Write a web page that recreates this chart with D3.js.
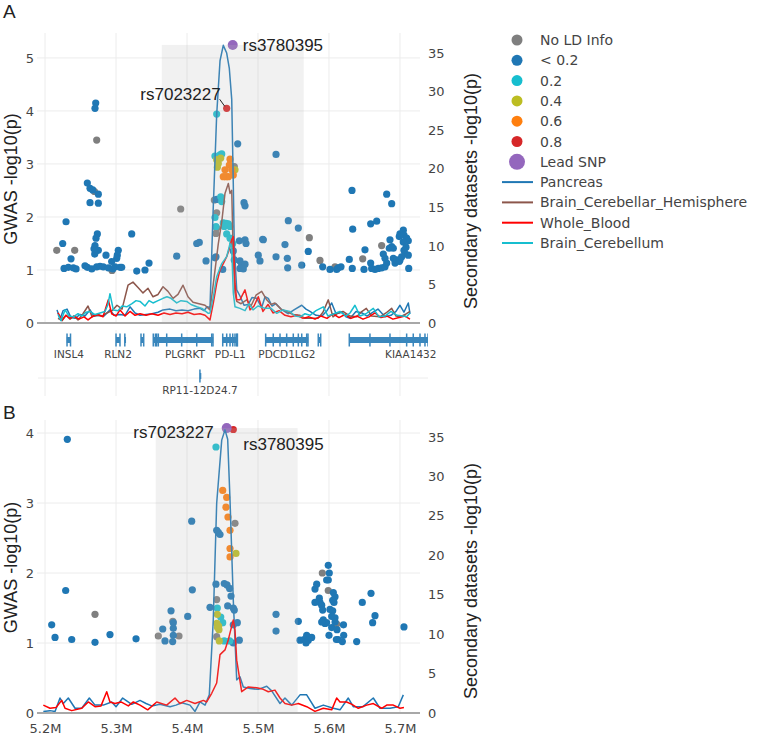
<!DOCTYPE html>
<html>
<head>
<meta charset="utf-8">
<script src="https://cdn.jsdelivr.net/npm/d3@7"></script>
<style>
  body { margin: 0; background: #fff; }
  text { font-family: "DejaVu Sans", Verdana, sans-serif; }
  .title { font-family: "Liberation Sans", Arial, sans-serif; fill: #222; }
</style>
</head>
<body>
<svg id="chart" width="767" height="738"></svg>
<script>
// LD categories (legend order)
const ldKeys = ["NA", "<0.2", "0.2", "0.4", "0.6", "0.8", "lead"]
const ldLabels = ["No LD Info", "< 0.2", "0.2", "0.4", "0.6", "0.8", "Lead SNP"]
const ldColors = ["#7f7f7f", "#1f77b4", "#17becf", "#bcbd22", "#ff7f0e", "#d62728", "#9467bd"]

const tissues = ["Pancreas", "Brain_Cerebellar_Hemisphere", "Whole_Blood", "Brain_Cerebellum"]
const tissueColors = ["#1f77b4", "#8c564b", "#ff0000", "#17becf"]

const xTicks = [5.2, 5.3, 5.4, 5.5, 5.6, 5.7]
const xTickLabels = ["5.2M", "5.3M", "5.4M", "5.5M", "5.6M", "5.7M"]
const topGwasTicks = [0, 1, 2, 3, 4, 5]
const bottomGwasTicks = [0, 1, 2, 3, 4]
const secondaryTicks = [0, 5, 10, 15, 20, 25, 30, 35]

// Panel A GWAS SNPs: [position (Mb), -log10 p, LD]
const topSnps = [
  [5.2714, 4.15, "<0.2"], [5.2704, 4.05, "<0.2"], [5.2728, 3.45, "NA"], [5.2596, 2.64, "<0.2"],
  [5.2634, 2.54, "<0.2"], [5.2672, 2.51, "<0.2"], [5.2697, 2.48, "NA"], [5.2751, 2.43, "<0.2"],
  [5.2634, 2.27, "<0.2"], [5.2751, 2.26, "<0.2"], [5.2296, 1.91, "<0.2"], [5.2737, 1.68, "<0.2"],
  [5.2718, 1.60, "<0.2"], [5.2704, 1.46, "<0.2"], [5.2249, 1.50, "<0.2"], [5.2165, 1.37, "NA"],
  [5.2418, 1.37, "NA"], [5.2366, 1.21, "<0.2"], [5.3221, 1.68, "<0.2"], [5.2859, 1.28, "<0.2"],
  [5.2751, 1.37, "<0.2"], [5.3032, 1.37, "<0.2"], [5.3018, 1.28, "<0.2"], [5.3010, 1.22, "<0.2"],
  [5.2939, 1.16, "<0.2"], [5.2700, 1.30, "<0.2"], [5.2690, 1.40, "<0.2"],
  [5.2268, 1.03, "<0.2"], [5.2328, 1.05, "<0.2"], [5.2399, 1.04, "<0.2"], [5.2437, 1.02, "<0.2"],
  [5.2563, 1.08, "<0.2"], [5.2596, 1.05, "<0.2"], [5.2658, 1.02, "<0.2"], [5.2728, 1.06, "<0.2"],
  [5.2775, 1.07, "<0.2"], [5.2821, 1.06, "<0.2"], [5.2892, 1.04, "<0.2"], [5.2954, 1.02, "<0.2"],
  [5.2986, 1.06, "<0.2"], [5.3056, 1.05, "<0.2"], [5.3080, 1.05, "<0.2"], [5.2944, 0.99, "NA"],
  [5.3292, 0.98, "<0.2"], [5.3408, 1.00, "<0.2"], [5.3465, 1.13, "<0.2"],
  [5.3855, 1.26, "<0.2"], [5.3911, 2.15, "NA"], [5.4137, 1.50, "<0.2"], [5.4173, 1.52, "<0.2"],
  [5.4268, 1.17, "<0.2"], [5.4385, 2.32, "NA"], [5.4418, 2.33, "<0.2"], [5.4418, 2.08, "NA"],
  [5.4418, 1.79, "NA"], [5.4408, 1.69, "NA"], [5.4408, 1.25, "<0.2"],
  [5.4418, 3.94, "0.2"], [5.4559, 4.05, "0.8"], [5.4644, 5.245, "lead"], [5.4714, 3.38, "<0.2"],
  [5.4394, 3.15, "0.2"], [5.4465, 3.17, "0.2"], [5.4489, 3.19, "0.2"],
  [5.4418, 3.08, "0.4"], [5.4441, 3.01, "0.4"], [5.4427, 2.94, "0.4"], [5.4475, 3.11, "0.4"],
  [5.4606, 3.09, "0.6"], [5.4596, 2.98, "0.6"], [5.4630, 2.89, "0.6"], [5.4535, 2.89, "0.6"],
  [5.4549, 2.76, "0.6"], [5.4582, 2.76, "0.6"], [5.4652, 2.79, "0.6"], [5.4511, 2.76, "0.6"],
  [5.4666, 2.95, "NA"], [5.4676, 2.89, "0.4"],
  [5.4475, 2.38, "0.2"], [5.4489, 2.29, "0.2"], [5.4394, 1.99, "0.2"], [5.4408, 1.82, "0.2"],
  [5.4511, 1.89, "0.2"], [5.4549, 1.88, "0.2"], [5.4582, 1.87, "0.2"], [5.4606, 1.82, "0.2"],
  [5.4525, 1.82, "0.2"], [5.4559, 1.68, "0.2"], [5.4606, 1.60, "0.2"], [5.4644, 1.50, "0.2"],
  [5.4803, 2.27, "<0.2"], [5.4817, 2.21, "<0.2"], [5.4737, 1.55, "<0.2"], [5.4817, 1.57, "<0.2"],
  [5.4831, 1.50, "<0.2"], [5.5066, 1.58, "<0.2"], [5.4394, 1.23, "<0.2"], [5.4503, 1.01, "<0.2"],
  [5.4652, 1.36, "<0.2"], [5.4666, 1.19, "<0.2"], [5.4746, 1.17, "<0.2"], [5.4770, 1.09, "<0.2"],
  [5.4817, 1.11, "<0.2"], [5.4746, 1.03, "<0.2"], [5.4793, 1.02, "<0.2"], [5.5004, 1.28, "<0.2"],
  [5.5028, 1.17, "<0.2"], [5.5254, 3.18, "<0.2"], [5.5427, 1.93, "<0.2"], [5.5568, 1.79, "<0.2"],
  [5.5075, 1.57, "<0.2"], [5.5380, 1.48, "<0.2"], [5.5254, 1.25, "<0.2"], [5.5413, 1.22, "<0.2"],
  [5.5418, 1.04, "<0.2"], [5.5616, 1.09, "<0.2"],
  [5.5723, 1.61, "NA"], [5.5708, 1.35, "<0.2"], [5.5873, 1.18, "NA"], [5.5911, 1.06, "<0.2"],
  [5.6014, 1.01, "<0.2"], [5.6108, 1.01, "<0.2"], [5.6130, 1.04, "<0.2"], [5.6169, 1.06, "<0.2"],
  [5.6085, 1.06, "NA"], [5.6286, 1.20, "<0.2"], [5.6328, 1.03, "<0.2"], [5.6324, 2.50, "<0.2"],
  [5.6334, 1.77, "<0.2"], [5.6507, 1.38, "<0.2"], [5.6475, 1.21, "NA"], [5.6493, 1.01, "<0.2"],
  [5.6587, 1.87, "<0.2"], [5.6672, 1.92, "<0.2"], [5.6587, 1.13, "<0.2"], [5.6601, 1.03, "<0.2"],
  [5.6648, 1.01, "<0.2"], [5.6694, 1.03, "<0.2"], [5.6742, 1.04, "<0.2"], [5.6789, 1.06, "<0.2"],
  [5.6765, 1.30, "<0.2"], [5.6789, 1.22, "<0.2"], [5.6813, 1.13, "<0.2"], [5.6742, 1.46, "NA"],
  [5.6813, 2.43, "<0.2"], [5.6883, 2.25, "<0.2"], [5.6859, 1.57, "<0.2"], [5.6883, 1.44, "<0.2"],
  [5.6849, 1.41, "<0.2"], [5.6906, 1.41, "<0.2"], [5.6906, 1.22, "<0.2"], [5.6930, 1.13, "<0.2"],
  [5.6954, 1.19, "<0.2"], [5.6990, 1.16, "<0.2"], [5.7000, 1.68, "<0.2"], [5.7047, 1.75, "<0.2"],
  [5.6990, 1.63, "<0.2"], [5.7056, 1.66, "<0.2"], [5.7094, 1.60, "<0.2"], [5.7117, 1.55, "<0.2"],
  [5.7047, 1.53, "<0.2"], [5.7085, 1.43, "<0.2"], [5.7070, 1.31, "<0.2"], [5.7117, 1.28, "<0.2"],
  [5.7056, 1.37, "<0.2"], [5.7000, 1.19, "<0.2"], [5.7024, 1.25, "<0.2"], [5.7123, 1.03, "<0.2"]
]

// Panel B GWAS SNPs
const bottomSnps = [
  [5.2314, 3.91, "<0.2"], [5.2291, 1.75, "<0.2"], [5.2094, 1.26, "<0.2"], [5.2141, 1.08, "<0.2"],
  [5.2376, 1.05, "<0.2"], [5.2704, 1.41, "NA"], [5.2704, 1.01, "<0.2"], [5.2915, 1.12, "<0.2"],
  [5.3282, 1.06, "<0.2"], [5.3596, 1.10, "NA"], [5.3658, 1.20, "<0.2"], [5.3690, 1.03, "<0.2"],
  [5.3775, 1.46, "<0.2"], [5.3807, 1.29, "<0.2"], [5.3807, 1.21, "<0.2"], [5.3807, 1.11, "<0.2"],
  [5.3800, 1.31, "NA"], [5.3798, 1.02, "<0.2"], [5.3887, 1.10, "NA"], [5.4010, 1.38, "<0.2"],
  [5.4066, 2.74, "<0.2"], [5.4075, 1.76, "<0.2"], [5.4324, 1.51, "<0.2"], [5.4408, 3.80, "0.2"],
  [5.4503, 3.18, "0.6"], [5.4559, 3.08, "0.6"], [5.4549, 2.94, "0.6"], [5.4577, 2.80, "0.6"],
  [5.4606, 2.61, "0.6"], [5.4606, 2.35, "0.6"], [5.4606, 2.23, "0.6"], [5.4676, 2.71, "NA"],
  [5.4690, 2.28, "0.4"], [5.4418, 2.61, "<0.2"], [5.4441, 2.58, "<0.2"], [5.4465, 2.55, "<0.2"],
  [5.4408, 1.84, "<0.2"], [5.4525, 1.85, "<0.2"], [5.4563, 1.83, "<0.2"], [5.4600, 1.78, "<0.2"],
  [5.4620, 1.67, "<0.2"], [5.4418, 1.62, "NA"], [5.4573, 1.53, "<0.2"], [5.4652, 1.50, "<0.2"],
  [5.4666, 1.47, "<0.2"], [5.4427, 1.50, "0.2"], [5.4475, 1.37, "0.2"], [5.4503, 1.29, "0.2"],
  [5.4427, 1.41, "0.4"], [5.4420, 1.28, "0.4"], [5.4450, 1.19, "0.4"], [5.4430, 1.22, "0.4"],
  [5.4445, 1.24, "0.4"], [5.4652, 1.26, "<0.2"], [5.4709, 1.29, "<0.2"], [5.4418, 1.09, "NA"],
  [5.4455, 1.03, "0.4"], [5.4525, 1.03, "0.2"], [5.4601, 1.03, "0.2"], [5.4652, 1.00, "<0.2"],
  [5.4737, 1.04, "<0.2"], [5.4559, 4.07, "lead"], [5.4652, 4.05, "0.8"],
  [5.5254, 1.41, "<0.2"], [5.5254, 1.17, "<0.2"], [5.5568, 1.31, "<0.2"], [5.5592, 1.04, "<0.2"],
  [5.5648, 1.05, "<0.2"], [5.5686, 1.11, "<0.2"], [5.5709, 1.04, "<0.2"], [5.5756, 1.08, "<0.2"],
  [5.5676, 1.00, "<0.2"], [5.5990, 2.11, "<0.2"], [5.5906, 2.00, "NA"], [5.6004, 2.00, "<0.2"],
  [5.5967, 1.90, "<0.2"], [5.5990, 1.90, "<0.2"], [5.5990, 1.75, "NA"], [5.5803, 1.77, "<0.2"],
  [5.5827, 1.84, "<0.2"], [5.5864, 1.64, "<0.2"], [5.5873, 1.58, "<0.2"], [5.5897, 1.54, "<0.2"],
  [5.5911, 1.47, "<0.2"], [5.5803, 1.58, "<0.2"], [5.6061, 1.72, "<0.2"], [5.6085, 1.66, "<0.2"],
  [5.6052, 1.61, "<0.2"], [5.6070, 1.58, "<0.2"], [5.6014, 1.48, "<0.2"], [5.6052, 1.46, "<0.2"],
  [5.6038, 1.38, "<0.2"], [5.6085, 1.36, "<0.2"], [5.5920, 1.33, "<0.2"], [5.5944, 1.28, "<0.2"],
  [5.5967, 1.29, "<0.2"], [5.5897, 1.30, "<0.2"], [5.6108, 1.27, "NA"], [5.6038, 1.22, "<0.2"],
  [5.6085, 1.30, "<0.2"], [5.6204, 1.26, "<0.2"], [5.6000, 1.11, "<0.2"], [5.6113, 1.19, "<0.2"],
  [5.6127, 1.05, "<0.2"], [5.6207, 1.11, "<0.2"], [5.6188, 1.02, "<0.2"], [5.6104, 1.05, "<0.2"],
  [5.6390, 1.02, "<0.2"], [5.6469, 1.58, "<0.2"], [5.6592, 1.71, "<0.2"], [5.6648, 1.39, "<0.2"],
  [5.6615, 1.29, "<0.2"], [5.7056, 1.23, "<0.2"]
]

// Panel A secondary datasets: [position (Mb), -log10 p]
const topPancreas = [
  [5.2169, 1.7], [5.2211, 0.5], [5.2254, 1.6], [5.2310, 1.8], [5.2366, 0.7], [5.2423, 0.6],
  [5.2493, 1.1], [5.2563, 0.9], [5.2634, 1.7], [5.2690, 0.9], [5.2761, 1.0], [5.2831, 0.9],
  [5.2915, 1.7], [5.2972, 1.0], [5.3056, 1.1], [5.3127, 1.0], [5.3197, 2.1], [5.3268, 1.3],
  [5.3338, 1.0], [5.3423, 1.1], [5.3507, 1.2], [5.3592, 1.4], [5.3662, 1.7], [5.3761, 1.8],
  [5.3845, 1.6], [5.3930, 1.7], [5.4014, 1.6], [5.4099, 1.8], [5.4183, 1.9], [5.4239, 1.6],
  [5.4282, 2.1], [5.4324, 2.0], [5.4366, 14], [5.4418, 27], [5.4465, 34], [5.4511, 36],
  [5.4559, 35], [5.4596, 33], [5.4630, 29], [5.4652, 18], [5.4666, 10], [5.4700, 4.3],
  [5.4746, 3.5], [5.4803, 2.3], [5.4863, 2.4], [5.4915, 3.3], [5.4982, 3.2], [5.5052, 2.0],
  [5.5099, 3.4], [5.5145, 3.2], [5.5197, 2.2], [5.5254, 2.5], [5.5324, 1.8], [5.5427, 1.2],
  [5.5507, 1.7], [5.5616, 2.3], [5.5676, 1.8], [5.5732, 1.5], [5.5817, 1.0], [5.5901, 0.9],
  [5.5972, 1.6], [5.6038, 2.6], [5.6099, 1.2], [5.6183, 1.4], [5.6239, 0.8], [5.6296, 0.6],
  [5.6380, 1.5], [5.6465, 1.3], [5.6535, 0.9], [5.6620, 1.4], [5.6690, 1.8], [5.6789, 0.8],
  [5.6873, 1.0], [5.6944, 1.5], [5.7000, 2.3], [5.7056, 1.4], [5.7117, 2.6], [5.7141, 1.2]
]
const topCerebellarHemisphere = [
  [5.2183, 0.6], [5.2239, 0.3], [5.2296, 1.0], [5.2352, 0.5], [5.2408, 0.9], [5.2465, 0.4],
  [5.2535, 1.2], [5.2606, 2.2], [5.2662, 0.8], [5.2732, 1.0], [5.2803, 0.9], [5.2873, 1.3],
  [5.2944, 1.6], [5.3014, 2.3], [5.3085, 1.8], [5.3169, 4.9], [5.3239, 5.3], [5.3310, 4.6],
  [5.3380, 3.9], [5.3451, 4.5], [5.3521, 3.4], [5.3592, 3.7], [5.3662, 4.7], [5.3732, 4.1],
  [5.3803, 3.2], [5.3873, 3.7], [5.3944, 4.9], [5.4014, 3.4], [5.4085, 2.7], [5.4169, 2.5],
  [5.4254, 2.3], [5.4324, 1.7], [5.4371, 5.1], [5.4441, 10.3], [5.4489, 13.1], [5.4535, 16.8],
  [5.4582, 18.1], [5.4606, 16.8], [5.4630, 17.2], [5.4652, 8.2], [5.4676, 3.9], [5.4700, 2.8],
  [5.4761, 2.5], [5.4841, 3.0], [5.4901, 2.2], [5.4972, 3.6], [5.5052, 4.1], [5.5123, 3.0],
  [5.5183, 2.4], [5.5239, 2.6], [5.5324, 1.8], [5.5404, 1.5], [5.5493, 1.1], [5.5592, 1.0],
  [5.5662, 0.6], [5.5732, 0.6], [5.5845, 0.6], [5.5915, 1.4], [5.5990, 3.0], [5.6056, 0.8],
  [5.6127, 1.3], [5.6197, 1.5], [5.6296, 0.9], [5.6390, 0.8], [5.6451, 1.4], [5.6526, 1.9],
  [5.6601, 0.9], [5.6718, 0.8], [5.6803, 1.3], [5.6883, 1.9], [5.6944, 0.9], [5.7000, 0.8],
  [5.7070, 1.1], [5.7141, 1.5]
]
const topWholeBlood = [
  [5.2183, 1.3], [5.2239, 0.4], [5.2296, 1.0], [5.2352, 0.6], [5.2408, 0.9], [5.2479, 0.5],
  [5.2549, 0.8], [5.2606, 0.4], [5.2676, 0.9], [5.2746, 1.1], [5.2817, 0.8], [5.2891, 3.0],
  [5.2939, 1.2], [5.3000, 0.9], [5.3056, 1.7], [5.3127, 0.9], [5.3197, 1.5], [5.3268, 1.0],
  [5.3338, 1.2], [5.3423, 1.0], [5.3507, 1.2], [5.3592, 1.0], [5.3676, 1.3], [5.3761, 1.1],
  [5.3845, 1.3], [5.3930, 1.2], [5.4014, 1.4], [5.4099, 1.1], [5.4183, 1.2], [5.4254, 1.0],
  [5.4324, 0.4], [5.4371, 2.6], [5.4418, 5.1], [5.4465, 6.9], [5.4511, 7.7], [5.4559, 8.6],
  [5.4592, 9.5], [5.4630, 10.8], [5.4652, 11.2], [5.4676, 5.1], [5.4700, 3.0], [5.4746, 3.0],
  [5.4817, 4.3], [5.4887, 1.7], [5.4944, 2.2], [5.5004, 3.4], [5.5070, 1.5], [5.5141, 2.4],
  [5.5211, 1.3], [5.5296, 1.6], [5.5380, 1.0], [5.5465, 0.8], [5.5549, 1.0], [5.5634, 0.6],
  [5.5718, 0.8], [5.5803, 0.5], [5.5887, 0.9], [5.5972, 0.6], [5.6056, 1.2], [5.6141, 0.7],
  [5.6225, 1.1], [5.6310, 0.6], [5.6394, 0.9], [5.6479, 0.5], [5.6563, 0.8], [5.6648, 1.3],
  [5.6732, 0.7], [5.6817, 0.9], [5.6901, 0.5], [5.6986, 0.7], [5.7070, 0.9], [5.7141, 0.5]
]
const topCerebellum = [
  [5.2183, 1.1], [5.2225, 0.3], [5.2282, 1.7], [5.2338, 0.9], [5.2399, 0.8], [5.2465, 1.2],
  [5.2521, 0.9], [5.2577, 1.4], [5.2634, 1.5], [5.2704, 1.1], [5.2775, 1.3], [5.2845, 1.5],
  [5.2887, 2.4], [5.2915, 3.8], [5.2962, 1.7], [5.3028, 1.6], [5.3085, 2.2], [5.3151, 2.1],
  [5.3225, 2.5], [5.3282, 2.9], [5.3338, 2.8], [5.3408, 2.2], [5.3465, 2.9], [5.3521, 2.6],
  [5.3592, 2.9], [5.3662, 3.2], [5.3718, 3.4], [5.3775, 3.2], [5.3855, 2.6], [5.3915, 2.9],
  [5.3996, 2.8], [5.4056, 2.4], [5.4137, 2.1], [5.4211, 1.9], [5.4300, 1.25], [5.4324, 1.3],
  [5.4371, 3.4], [5.4418, 6.0], [5.4489, 7.7], [5.4559, 8.6], [5.4606, 10.3], [5.4630, 9.5],
  [5.4652, 3.9], [5.4676, 2.1], [5.4746, 1.9], [5.4817, 1.6], [5.4873, 2.5], [5.4930, 1.7],
  [5.5000, 2.2], [5.5099, 1.9], [5.5183, 1.9], [5.5264, 1.25], [5.5352, 1.7], [5.5451, 1.5],
  [5.5521, 0.9], [5.5592, 0.8], [5.5662, 1.2], [5.5732, 1.0], [5.5817, 1.6], [5.5920, 2.1],
  [5.5986, 0.9], [5.6070, 1.2], [5.6155, 1.5], [5.6239, 0.9], [5.6296, 1.3], [5.6366, 2.3],
  [5.6437, 0.9], [5.6521, 1.2], [5.6624, 1.9], [5.6704, 0.8], [5.6789, 0.9], [5.6873, 1.5],
  [5.6958, 1.0], [5.7042, 0.9], [5.7094, 0.8], [5.7141, 1.3]
]

// Panel B secondary datasets
const bottomPancreas = [
  [5.1976, 0.2], [5.2070, 0.3], [5.2141, 0.2], [5.2211, 1.9], [5.2258, 1.2], [5.2328, 1.9],
  [5.2423, 0.6], [5.2517, 0.6], [5.2624, 1.9], [5.2704, 1.0], [5.2821, 1.0], [5.2939, 1.4],
  [5.3000, 0.8], [5.3094, 1.9], [5.3221, 1.1], [5.3338, 1.6], [5.3423, 1.2], [5.3502, 0.9],
  [5.3620, 1.1], [5.3761, 0.8], [5.3845, 1.0], [5.3925, 1.3], [5.4042, 1.0], [5.4113, 0.2],
  [5.4183, 1.4], [5.4254, 1.0], [5.4314, 2.3], [5.4370, 11.8], [5.4418, 26.6], [5.4489, 34.6],
  [5.4535, 35.9], [5.4573, 34.7], [5.4606, 27], [5.4652, 14.3], [5.4700, 4.2], [5.4746, 4.6],
  [5.4793, 3.3], [5.4887, 3.1], [5.5004, 3.0], [5.5123, 3.4], [5.5193, 2.8], [5.5310, 1.2],
  [5.5380, 1.9], [5.5475, 1.0], [5.5592, 2.3], [5.5686, 2.3], [5.5803, 0.6], [5.5920, 1.0],
  [5.6061, 0.6], [5.6155, 0.4], [5.6272, 1.9], [5.6342, 0.8], [5.6479, 0.8], [5.6624, 1.9],
  [5.6718, 0.6], [5.6859, 0.6], [5.6976, 0.8], [5.7047, 2.3]
]
const bottomWholeBlood = [
  [5.1976, 1.0], [5.2070, 0.6], [5.2155, 0.7], [5.2235, 1.6], [5.2282, 0.6], [5.2376, 0.3],
  [5.2517, 0.6], [5.2610, 1.4], [5.2704, 0.8], [5.2789, 0.9], [5.2869, 2.7], [5.2915, 1.4],
  [5.2986, 1.2], [5.3070, 1.4], [5.3173, 0.9], [5.3244, 1.4], [5.3338, 1.0], [5.3446, 0.4],
  [5.3573, 1.4], [5.3714, 1.0], [5.3831, 1.9], [5.3901, 1.2], [5.3996, 1.6], [5.4113, 1.2],
  [5.4230, 1.6], [5.4277, 1.4], [5.4348, 2.5], [5.4418, 3.8], [5.4465, 7.4], [5.4535, 8.0],
  [5.4582, 9.3], [5.4652, 11.8], [5.4676, 10.5], [5.4700, 6.7], [5.4737, 4.6], [5.4770, 2.7],
  [5.4863, 3.3], [5.4982, 3.2], [5.5075, 3.0], [5.5145, 2.7], [5.5239, 2.9], [5.5310, 1.9],
  [5.5380, 1.2], [5.5475, 1.0], [5.5568, 1.2], [5.5686, 0.8], [5.5803, 0.2], [5.5920, 0.6],
  [5.6038, 0.4], [5.6108, 1.9], [5.6155, 1.4], [5.6249, 1.4], [5.6324, 1.1], [5.6413, 0.6],
  [5.6531, 1.0], [5.6624, 1.2], [5.6742, 0.6], [5.6813, 1.0], [5.6906, 1.0], [5.7000, 0.6],
  [5.7056, 0.7]
]

// Genes (panel A track)
const geneNames = ["INSL4", "RLN2", "", "", "", "PLGRKT", "PD-L1", "PDCD1LG2", "", "KIAA1432", "RP11-12D24.7"]
const geneStarts = [5.2306, 5.3000, 5.3120, 5.3352, 5.3525, 5.3573, 5.4503, 5.5108, 5.5849, 5.6286, 5.4180]
const geneEnds = [5.2366, 5.3056, 5.3127, 5.3394, 5.3559, 5.4370, 5.4714, 5.5708, 5.5887, 5.8018, 5.4186]
const geneRows = [0, 0, 0, 0, 0, 0, 0, 0, 0, 0, 1]
const geneExons = [
  [5.2310, 5.2359], [5.3000, 5.3056], [5.3124], [5.3352, 5.3390], [5.3525, 5.3555],
  [5.3573, 5.3596, 5.3714, 5.3925, 5.4137, 5.4348, 5.4366],
  [5.4503, 5.4559, 5.4606, 5.4644, 5.4676, 5.4700, 5.4710],
  [5.5108, 5.5215, 5.5310, 5.5404, 5.5497, 5.5568, 5.5616, 5.5686, 5.5704],
  [5.5849, 5.5883],
  [5.6286, 5.6577, 5.6859, 5.7094, 5.7187, 5.7282, 5.7352, 5.7395],
  [5.4182]
]

const svg = d3.select("#chart")

const x = d3.scaleLinear().domain([5.1887, 5.7282]).range([37, 420])

const panels = [
  {
    label: "A", labelY: 18, top: 33, bottom: 323,
    gwasMax: 5.47, secMax: 37.6, gwasTicks: topGwasTicks,
    snps: topSnps,
    lines: [topPancreas, topCerebellarHemisphere, topWholeBlood, topCerebellum],
    lineColors: tissueColors,
    annots: [
      { id: "rs3780395", snp: [5.4644, 5.245], dx: 10, dy: 6, anchor: "start" },
      { id: "rs7023227", snp: [5.4559, 4.05], dx: -6, dy: -8, anchor: "end", arrow: true }
    ],
    xLabels: false, secTitleY: 191
  },
  {
    label: "B", labelY: 419, top: 420, bottom: 713,
    gwasMax: 4.186, secMax: 37.15, gwasTicks: bottomGwasTicks,
    snps: bottomSnps,
    lines: [bottomPancreas, bottomWholeBlood],
    lineColors: [tissueColors[0], tissueColors[2]],
    annots: [
      { id: "rs7023227", snp: [5.4559, 4.07], dx: -13, dy: 10, anchor: "end" },
      { id: "rs3780395", snp: [5.4652, 4.05], dx: 10, dy: 20, anchor: "start" }
    ],
    xLabels: true, secTitleY: 581
  }
]

panels.forEach(p => {
  const yL = d3.scaleLinear().domain([0, p.gwasMax]).range([p.bottom, p.top])
  const yR = d3.scaleLinear().domain([0, p.secMax]).range([p.bottom, p.top])
  const g = svg.append("g")

  // grid
  g.append("g").selectAll("line").data(xTicks).join("line")
    .attr("x1", d => x(d)).attr("x2", d => x(d))
    .attr("y1", p.top).attr("y2", p.bottom)
    .attr("stroke", "#ececec").attr("stroke-width", 1)
  g.append("g").selectAll("line").data(p.gwasTicks.slice(1)).join("line")
    .attr("x1", x.range()[0]).attr("x2", x.range()[1])
    .attr("y1", d => yL(d)).attr("y2", d => yL(d))
    .attr("stroke", "#ececec").attr("stroke-width", 1)

  // GWAS points, low LD first
  const sorted = p.snps.slice().sort((a, b) => ldKeys.indexOf(a[2]) - ldKeys.indexOf(b[2]))
  g.append("g").selectAll("circle").data(sorted).join("circle")
    .attr("cx", d => x(d[0]))
    .attr("cy", d => yL(d[1]))
    .attr("r", d => d[2] === "lead" ? 5 : 3.6)
    .attr("fill", d => ldColors[ldKeys.indexOf(d[2])])

  // secondary lines
  const line = d3.line().x(d => x(d[0])).y(d => yR(d[1]))
  p.lines.forEach((s, i) => {
    g.append("path").datum(s)
      .attr("d", line)
      .attr("fill", "none")
      .attr("stroke", p.lineColors[i])
      .attr("stroke-width", 1.5)
      .attr("stroke-linejoin", "round")
  })

  // shaded window around the lead SNP
  const lead = p.snps.find(d => d[2] === "lead")
  g.append("rect")
    .attr("x", x(lead[0] - 0.1))
    .attr("width", x(lead[0] + 0.1) - x(lead[0] - 0.1))
    .attr("y", yL(lead[1]))
    .attr("height", p.bottom - yL(lead[1]))
    .attr("fill", "#b8b8b8")
    .attr("opacity", 0.2)

  // zero line
  g.append("line")
    .attr("x1", x.range()[0]).attr("x2", x.range()[1])
    .attr("y1", p.bottom).attr("y2", p.bottom)
    .attr("stroke", "#a8a8a8").attr("stroke-width", 2)

  // axes
  const left = g.append("g").attr("transform", `translate(${x.range()[0]},0)`)
    .call(d3.axisLeft(yL).tickValues(p.gwasTicks).tickFormat(d3.format("d")).tickSize(0).tickPadding(3))
  const right = g.append("g").attr("transform", `translate(${x.range()[1]},0)`)
    .call(d3.axisRight(yR).tickValues(secondaryTicks).tickFormat(d3.format("d")).tickSize(0).tickPadding(8))
  ;[left, right].forEach(a => {
    a.select(".domain").remove()
    a.selectAll("text").attr("font-size", 13).attr("fill", "#444")
      .attr("font-family", "DejaVu Sans, Verdana, sans-serif")
  })
  if (p.xLabels) {
    const bx = g.append("g").attr("transform", `translate(0,${p.bottom})`)
      .call(d3.axisBottom(x).tickValues(xTicks).tickFormat((d, i) => xTickLabels[i]).tickSize(0).tickPadding(11))
    bx.select(".domain").remove()
    bx.selectAll("text").attr("font-size", 13).attr("fill", "#444")
      .attr("font-family", "DejaVu Sans, Verdana, sans-serif")
  }

  // annotations
  p.annots.forEach(a => {
    const px = x(a.snp[0]), py = yL(a.snp[1])
    g.append("text").attr("class", "title")
      .attr("x", px + a.dx).attr("y", py + a.dy)
      .attr("text-anchor", a.anchor)
      .attr("font-size", 17).attr("fill", "#222")
      .text(a.id)
    if (a.arrow) {
      g.append("line")
        .attr("x1", px + a.dx - 1).attr("y1", py + a.dy - 1)
        .attr("x2", px - 2).attr("y2", py - 2)
        .attr("stroke", "#222").attr("stroke-width", 1)
    }
  })

  // titles
  svg.append("text").attr("class", "title")
    .attr("x", 3).attr("y", p.labelY)
    .attr("font-size", 19).text(p.label)
  svg.append("text").attr("class", "title")
    .attr("transform", `translate(17,${(p.top + p.bottom) / 2 + 1}) rotate(-90)`)
    .attr("text-anchor", "middle").attr("font-size", 18)
    .text("GWAS -log10(p)")
  svg.append("text").attr("class", "title")
    .attr("transform", `translate(477,${p.secTitleY}) rotate(-90)`)
    .attr("text-anchor", "middle").attr("font-size", 18)
    .text("Secondary datasets -log10(p)")
})

// gene track below panel A
svg.append("clipPath").attr("id", "trackclip")
  .append("rect").attr("x", 30).attr("y", 325).attr("width", 398).attr("height", 80)
const track = svg.append("g")
const rowY = [340, 376]
track.selectAll("line").data(xTicks).join("line")
  .attr("x1", d => x(d)).attr("x2", d => x(d))
  .attr("y1", 330).attr("y2", 396)
  .attr("stroke", "#ececec")
track.append("line")
  .attr("x1", 38).attr("x2", 428).attr("y1", 378).attr("y2", 378)
  .attr("stroke", "#ececec")

geneNames.forEach((name, i) => {
  const cy = rowY[geneRows[i]]
  const gg = track.append("g").attr("fill", "#1f77b4").attr("opacity", 0.88)
    .attr("clip-path", "url(#trackclip)")
  gg.append("rect")
    .attr("x", x(geneStarts[i])).attr("y", cy - 3)
    .attr("width", Math.max(1.5, x(geneEnds[i]) - x(geneStarts[i]))).attr("height", 6)
  gg.selectAll("rect.ex").data(geneExons[i]).join("rect")
    .attr("class", "ex")
    .attr("x", d => x(d) - 0.75).attr("y", cy - 6.5)
    .attr("width", 1.5).attr("height", 13)
  if (name) {
    track.append("text")
      .attr("x", (x(geneStarts[i]) + x(geneEnds[i])) / 2)
      .attr("y", cy + 18)
      .attr("text-anchor", "middle")
      .attr("font-size", 10.5).attr("fill", "#444")
      .text(name)
  }
})

// legend
const legend = svg.append("g")
ldLabels.forEach((lab, i) => {
  const y = 40 + i * 20.3
  legend.append("circle").attr("cx", 517).attr("cy", y)
    .attr("r", ldKeys[i] === "lead" ? 8 : 5.5).attr("fill", ldColors[i])
  legend.append("text").attr("x", 540).attr("y", y + 5)
    .attr("font-size", 14).attr("fill", "#444").text(lab)
})
tissues.forEach((lab, i) => {
  const y = 40 + (ldLabels.length + i) * 20.3
  legend.append("line").attr("x1", 502).attr("x2", 533).attr("y1", y).attr("y2", y)
    .attr("stroke", tissueColors[i]).attr("stroke-width", 2)
  legend.append("text").attr("x", 540).attr("y", y + 5)
    .attr("font-size", 14).attr("fill", "#444").text(lab)
})
</script>
</body>
</html>
